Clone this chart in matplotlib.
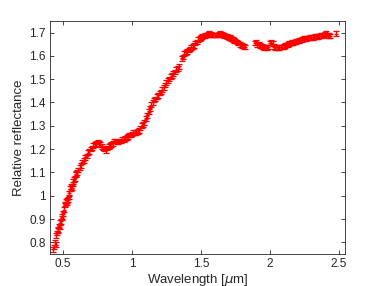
import matplotlib
matplotlib.use("Agg")
import matplotlib.pyplot as plt

wavelength = [0.43, 0.435, 0.44, 0.445, 0.45, 0.455, 0.46, 0.465, 0.47, 0.475,
              0.48, 0.485, 0.49, 0.495, 0.50, 0.505, 0.51, 0.515, 0.52, 0.525,
              0.53, 0.535, 0.54, 0.545, 0.55, 0.555, 0.56, 0.565, 0.57, 0.575,
              0.58, 0.585, 0.59, 0.595, 0.60, 0.61, 0.62, 0.63, 0.64, 0.65,
              0.66, 0.67, 0.68, 0.69, 0.70, 0.71, 0.72, 0.73, 0.74, 0.75,
              0.76, 0.77, 0.78, 0.79, 0.80, 0.81, 0.82, 0.83, 0.84, 0.85,
              0.86, 0.87, 0.88, 0.89, 0.90, 0.91, 0.92, 0.93, 0.94, 0.95,
              0.96, 0.97, 0.98, 0.99, 1.00, 1.01, 1.02, 1.03, 1.04, 1.05,
              1.06, 1.07, 1.08, 1.09, 1.10, 1.11, 1.12, 1.13, 1.14, 1.15,
              1.16, 1.17, 1.18, 1.19, 1.20, 1.21, 1.22, 1.23, 1.24, 1.25,
              1.26, 1.27, 1.28, 1.29, 1.30, 1.31, 1.32, 1.33, 1.34, 1.36,
              1.37, 1.38, 1.39, 1.40, 1.41, 1.42, 1.43, 1.44, 1.45, 1.46,
              1.47, 1.48, 1.49, 1.50, 1.51, 1.52, 1.53, 1.54, 1.55, 1.56,
              1.57, 1.58, 1.59, 1.60, 1.61, 1.62, 1.63, 1.64, 1.65, 1.66,
              1.67, 1.68, 1.69, 1.70, 1.71, 1.72, 1.73, 1.74, 1.75, 1.76,
              1.77, 1.78, 1.79, 1.80, 1.81, 1.82,
              1.89, 1.90, 1.91, 1.92, 1.93, 1.94, 1.95, 1.96, 1.97, 1.98,
              1.99, 2.00, 2.01, 2.02, 2.03, 2.04, 2.05, 2.06, 2.07, 2.08,
              2.09, 2.10, 2.11, 2.12, 2.13, 2.14, 2.15, 2.16, 2.17, 2.18,
              2.19, 2.20, 2.21, 2.22, 2.23, 2.24, 2.25, 2.26, 2.27, 2.28,
              2.29, 2.30, 2.31, 2.32, 2.33, 2.34, 2.35, 2.36, 2.37, 2.38,
              2.39, 2.40, 2.41, 2.42, 2.43, 2.44, 2.48]
reflectance = [0.77, 0.78, 0.80, 0.79, 0.83, 0.84, 0.855, 0.85, 0.87, 0.865,
               0.885, 0.89, 0.905, 0.91, 0.925, 0.94, 0.96, 0.965, 0.975, 0.97,
               0.98, 0.985, 0.995, 1.01, 1.03, 1.03, 1.04, 1.035, 1.05, 1.06,
               1.07, 1.075, 1.09, 1.095, 1.10, 1.11, 1.12, 1.13, 1.145, 1.15,
               1.165, 1.17, 1.185, 1.19, 1.20, 1.205, 1.215, 1.22, 1.225, 1.23,
               1.225, 1.22, 1.21, 1.205, 1.20, 1.195, 1.205, 1.21, 1.215, 1.22,
               1.225, 1.235, 1.235, 1.23, 1.23, 1.235, 1.235, 1.24, 1.24, 1.245,
               1.25, 1.255, 1.26, 1.26, 1.265, 1.27, 1.27, 1.27, 1.275, 1.28,
               1.29, 1.30, 1.305, 1.315, 1.33, 1.345, 1.36, 1.375, 1.39, 1.40,
               1.41, 1.415, 1.425, 1.43, 1.44, 1.445, 1.455, 1.465, 1.475, 1.485,
               1.495, 1.50, 1.51, 1.515, 1.525, 1.53, 1.54, 1.545, 1.555, 1.59,
               1.595, 1.61, 1.615, 1.62, 1.625, 1.63, 1.635, 1.64, 1.645, 1.655,
               1.66, 1.67, 1.675, 1.68, 1.683, 1.685, 1.688, 1.69, 1.692, 1.695,
               1.692, 1.69, 1.69, 1.69, 1.69, 1.69, 1.692, 1.695, 1.692, 1.69,
               1.688, 1.685, 1.683, 1.68, 1.678, 1.675, 1.67, 1.665, 1.663, 1.66,
               1.655, 1.65, 1.647, 1.645, 1.64, 1.638,
               1.655, 1.658, 1.65, 1.648, 1.645, 1.64, 1.638, 1.636, 1.636, 1.635,
               1.638, 1.655, 1.657, 1.652, 1.64, 1.637, 1.636, 1.636, 1.637, 1.638,
               1.638, 1.64, 1.645, 1.647, 1.65, 1.652, 1.655, 1.657, 1.658, 1.66,
               1.662, 1.664, 1.666, 1.668, 1.67, 1.672, 1.673, 1.675, 1.676, 1.677,
               1.678, 1.679, 1.68, 1.681, 1.682, 1.683, 1.684, 1.685, 1.686, 1.688,
               1.69, 1.693, 1.695, 1.688, 1.686, 1.685, 1.695]
errors = [0.010] * len(reflectance)

plt.rcParams['font.family'] = ['Liberation Sans', 'DejaVu Sans']

fig = plt.figure(figsize=(3.82, 2.86), dpi=100)
ax = fig.add_axes([0.131, 0.112, 0.772, 0.815])
ax.errorbar(wavelength, reflectance, yerr=errors, fmt='+', color='#ff0000',
            ecolor='#ff0000', markersize=3, elinewidth=0.9, capsize=2.0,
            capthick=0.9, markeredgewidth=0.9)
ax.set_xlim(0.405, 2.545)
ax.set_ylim(0.75, 1.75)
ax.set_xticks([0.5, 1, 1.5, 2, 2.5])
ax.set_xticklabels(['0.5', '1', '1.5', '2', '2.5'])
ax.set_yticks([0.8, 0.9, 1.0, 1.1, 1.2, 1.3, 1.4, 1.5, 1.6, 1.7])
ax.set_yticklabels(['0.8', '0.9', '1', '1.1', '1.2', '1.3', '1.4', '1.5', '1.6', '1.7'])
ax.tick_params(direction='in', top=True, right=True, length=3, width=0.6,
               labelsize=8.5, colors='#262626', pad=3)
for s in ax.spines.values():
    s.set_linewidth(0.6)
    s.set_color('#262626')
ax.set_xlabel(r'Wavelength [$\mu$m]', fontsize=9.5, color='#262626', labelpad=1)
ax.set_ylabel('Relative reflectance', fontsize=9.5, color='#262626', labelpad=3)
fig.savefig('out.png', dpi=100)
